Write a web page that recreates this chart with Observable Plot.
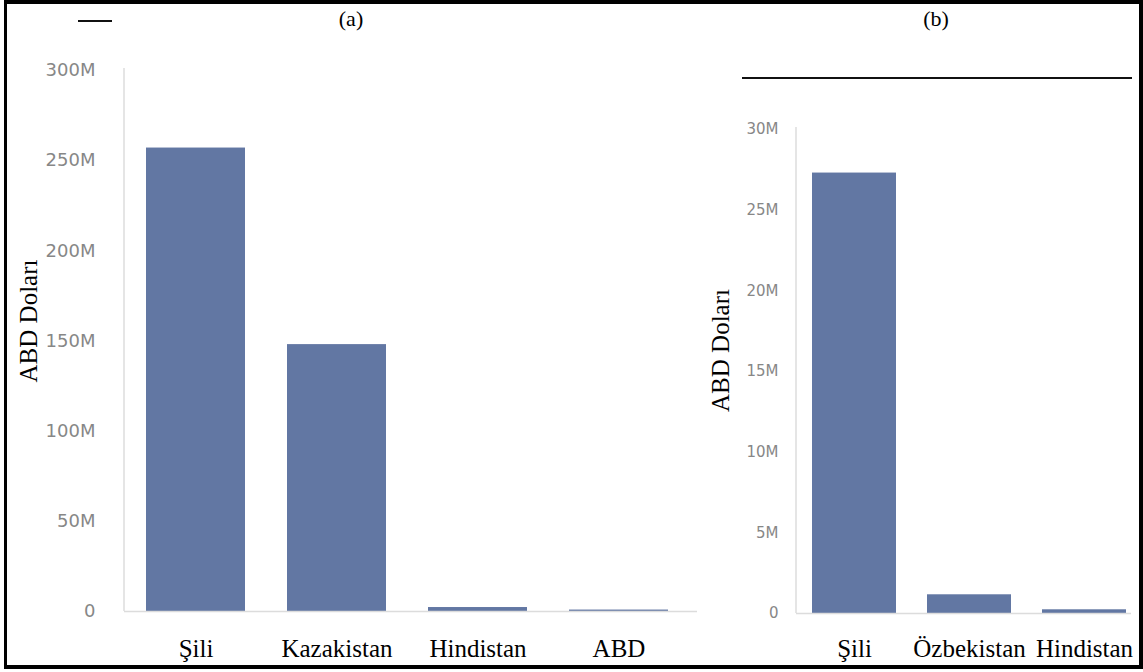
<!DOCTYPE html>
<html>
<head>
<meta charset="utf-8">
<script src="https://cdn.jsdelivr.net/npm/d3@7"></script>
<script src="https://cdn.jsdelivr.net/npm/@observablehq/plot@0.6"></script>
<style>
  html, body { margin: 0; padding: 0; background: #fff; }
  #wrap { position: relative; width: 1143px; height: 672px; overflow: hidden; background: #fff; }
  #border { position: absolute; left: 4px; top: 0; width: 1139px; height: 669px; box-sizing: border-box; border: 4px solid #000; border-left-width: 3px; pointer-events: none; }
  .deco { position: absolute; background: #111; }
  #left, #right { position: absolute; top: 0; }
  #left { left: 0; }
  #right { left: 700px; }
</style>
</head>
<body>
<div id="wrap">
  <div id="left"></div>
  <div id="right"></div>
  <div class="deco" style="left:78px;top:20px;width:34px;height:2px;"></div>
  <div class="deco" style="left:742px;top:77px;width:390px;height:2px;"></div>
  <div id="border"></div>
</div>
<script>
// Panel (a)
const catsA = ["Şili", "Kazakistan", "Hindistan", "ABD"];
const valsA = [257e6, 148e6, 2.2e6, 0.8e6];
const ticksA = [0, 50e6, 100e6, 150e6, 200e6, 250e6, 300e6];
const tickLabelsA = ["0", "50M", "100M", "150M", "200M", "250M", "300M"];
const titleA = "(a)";

// Panel (b)
const catsB = ["Şili", "Özbekistan", "Hindistan"];
const valsB = [27.3e6, 1.16e6, 0.23e6];
const ticksB = [0, 5e6, 10e6, 15e6, 20e6, 25e6, 30e6];
const tickLabelsB = ["0", "5M", "10M", "15M", "20M", "25M", "30M"];
const titleB = "(b)";

const yTitle = "ABD Doları";

const barColor = "#6277a3";
const gridGray = "#dcdcdc";
const tickGray = "#878787";
const serif = "Liberation Serif, Times New Roman, serif";
const sans = "DejaVu Sans, Verdana, sans-serif";

function axisLine(index, scales, values, dims) {
  const ns = "http://www.w3.org/2000/svg";
  const l = document.createElementNS(ns, "line");
  l.setAttribute("x1", dims.marginLeft);
  l.setAttribute("x2", dims.marginLeft);
  l.setAttribute("y1", dims.marginTop - 2);
  l.setAttribute("y2", dims.height - dims.marginBottom);
  l.setAttribute("stroke", gridGray);
  l.setAttribute("stroke-width", 1.5);
  return l;
}

function panel({cats, vals, ticks, tickLabels, title, width, height, ml, mr, mt, mb, yMax,
                padIn, padOut, align, tickFont, tickPad, xPad, titleDx, titleDy, yTitleDx, yTitleDy}) {
  const data = cats.map((c, i) => ({cat: c, value: vals[i]}));
  const fmt = new Map(ticks.map((t, i) => [t, tickLabels[i]]));
  return Plot.plot({
    width, height,
    marginLeft: ml, marginRight: mr, marginTop: mt, marginBottom: mb,
    style: {background: "transparent", overflow: "visible"},
    x: {domain: cats, paddingInner: padIn, paddingOuter: padOut, align, label: null},
    y: {domain: [0, yMax], label: null},
    marks: [
      Plot.barY(data, {x: "cat", y: "value", fill: barColor}),
      Plot.ruleY([0], {stroke: gridGray, strokeWidth: 1.5}),
      axisLine,
      Plot.axisY({ticks, tickFormat: d => fmt.get(d), tickSize: 0, tickPadding: tickPad,
                  fontFamily: sans, fontSize: tickFont, fill: tickGray, label: null}),
      Plot.axisX({tickSize: 0, tickPadding: xPad, fontFamily: serif, fontSize: 25, fill: "#000", label: null}),
      Plot.text([title], {frameAnchor: "top", dx: titleDx, dy: titleDy, fontFamily: serif, fontSize: 22, fill: "#000", textAnchor: "middle", lineAnchor: "middle"}),
      Plot.text([yTitle], {frameAnchor: "left", rotate: -90, dx: yTitleDx, dy: yTitleDy, fontFamily: serif, fontSize: 25, fill: "#000", textAnchor: "middle", lineAnchor: "middle"})
    ]
  });
}

document.getElementById("left").append(panel({
  cats: catsA, vals: valsA, ticks: ticksA, tickLabels: tickLabelsA, title: titleA,
  width: 720, height: 672, ml: 124, mr: 23, mt: 70, mb: 61, yMax: 300e6,
  padIn: 0.3, padOut: 0.17, align: 0.42, tickFont: 18, tickPad: 29, xPad: 28,
  titleDx: -60, titleDy: -52, yTitleDx: -96, yTitleDy: -20
}));

document.getElementById("right").append(panel({
  cats: catsB, vals: valsB, ticks: ticksB, tickLabels: tickLabelsB, title: titleB,
  width: 443, height: 672, ml: 96, mr: 12, mt: 129, mb: 59, yMax: 30e6,
  padIn: 0.27, padOut: 0.09, align: 0.76, tickFont: 15, tickPad: 18, xPad: 26,
  titleDx: -28, titleDy: -111, yTitleDx: -76, yTitleDy: -21
}));
</script>
</body>
</html>
